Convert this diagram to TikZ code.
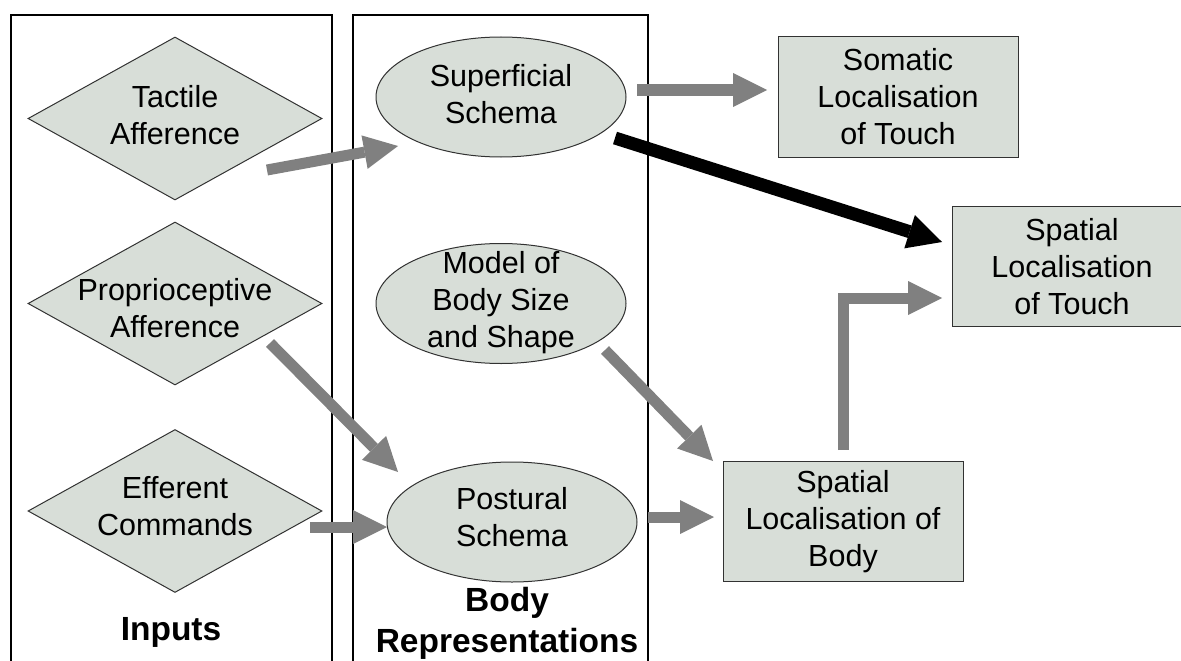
\documentclass[tikz,border=0pt]{standalone}
\usepackage{fontspec}
\setmainfont{Liberation Sans}
\usetikzlibrary{shapes.geometric,arrows.meta}
\definecolor{nodefill}{RGB}{216,222,216}
\definecolor{nodeline}{RGB}{50,50,50}
\definecolor{arrowgray}{RGB}{128,128,128}
\tikzset{
  frame/.style={draw=black,line width=2.2pt},
  dia/.style={diamond,draw=nodeline,fill=nodefill,line width=1pt,minimum width=294pt,minimum height=163pt,inner sep=0pt},
  ell/.style={ellipse,draw=nodeline,fill=nodefill,line width=1pt,minimum width=250pt,minimum height=120pt,inner sep=0pt},
  boxnode/.style={rectangle,draw=nodeline,fill=nodefill,line width=1pt,minimum width=240pt,minimum height=120pt,inner sep=0pt,align=center,font=\fontsize{30.5}{37}\selectfont},
  lbl/.style={align=center,inner sep=0pt,font=\fontsize{30.5}{37}\selectfont},
  title/.style={align=center,inner sep=0pt,font=\bfseries\fontsize{33.5}{41}\selectfont},
  garrow/.style={draw=arrowgray,line width=11pt,line join=miter,-{Triangle[length=34pt,width=34pt,line width=0pt]}},
  barrow/.style={draw=black,line width=13pt,-{Triangle[length=34pt,width=35pt,line width=0pt]}}
}
\begin{document}
\begin{tikzpicture}[x=1pt,y=-1pt]
\useasboundingbox (0,0) rectangle (1181,661);
\fill[white] (0,0) rectangle (1181,661);
% column frames
\draw[frame] (11,680) -- (11,15) -- (332,15) -- (332,680);
\draw[frame] (353,680) -- (353,15) -- (648,15) -- (648,680);
% inputs
\node[dia] (tac) at (175,118.5) {};
\node[lbl] (tacT) at (175,115) {Tactile\\Afference};
\node[dia] (pro) at (175,303.5) {};
\node[lbl] (proT) at (175,308) {Proprioceptive\\Afference};
\node[dia] (eff) at (175,511) {};
\node[lbl] (effT) at (175,506) {Efferent\\Commands};
\node[title] (inp) at (171,632) {Inputs};
% body representations
\node[ell] (sup) at (501,97) {};
\node[lbl] (supT) at (501,94) {Superficial\\Schema};
\node[ell] (mod) at (501,303.5) {};
\node[lbl] (modT) at (501,303) {Model of\\Body Size\\and Shape};
\node[ell] (pos) at (512,522) {};
\node[lbl] (posT) at (512,517) {Postural\\Schema};
\node[title] (rep) at (507,623) {Body\\Representations};
% outputs
\node[boxnode] (som) at (898,97) {Somatic\\Localisation\\of Touch};
\node[boxnode] (stt) at (1072,266.5) {Spatial\\Localisation\\of Touch};
\node[boxnode] (slb) at (843,521.5) {Spatial\\Localisation of\\Body};
% connector ends
\coordinate (tacS) at (267,170);
\coordinate (tacE) at (398,146);
\coordinate (proS) at (270,343);
\coordinate (proE) at (398,472);
\coordinate (effS) at (310,527);
\coordinate (effE) at (387,527);
\coordinate (supS) at (637,90);
\coordinate (supE) at (767,90);
\coordinate (blkS) at (615,138);
\coordinate (blkE) at (942,242);
\coordinate (modS) at (605,350);
\coordinate (modE) at (713,461);
\coordinate (posS) at (648,517);
\coordinate (posE) at (714,517);
\coordinate (elbS) at (843,450);
\coordinate (elbE) at (942,298);
% connectors
\draw[garrow] (tacS) -- (tacE);
\draw[garrow] (proS) -- (proE);
\draw[garrow] (effS) -- (effE);
\draw[garrow] (supS) -- (supE);
\draw[barrow] (blkS) -- (blkE);
\draw[garrow] (modS) -- (modE);
\draw[garrow] (posS) -- (posE);
\draw[garrow] (elbS) |- (elbE);
\end{tikzpicture}
\end{document}
